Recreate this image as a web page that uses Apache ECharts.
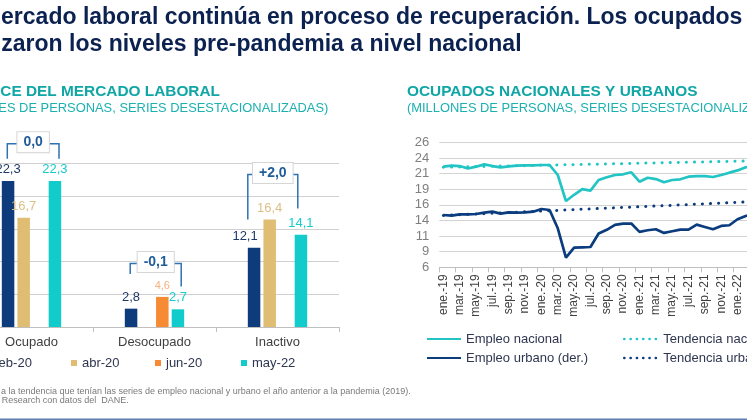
<!DOCTYPE html>
<html><head><meta charset="utf-8">
<script src="https://cdn.jsdelivr.net/npm/echarts@6/dist/echarts.min.js"></script>
<style>html,body{margin:0;padding:0;background:#ffffff}#c{width:747px;height:420px}</style>
</head><body><div id="c"></div>
<script>
// ---------- Left chart data ----------
const barCategories = ['Ocupado', 'Desocupado', 'Inactivo'];
const barNames = ['feb-20', 'abr-20', 'jun-20', 'may-22'];
const barFeb20 = [22.3, 2.8, 12.1];
const barAbr20 = [16.7, null, 16.4];
const barJun20 = [null, 4.6, null];
const barMay22 = [22.3, 2.7, 14.1];
const changeLabels = ['0,0', '-0,1', '+2,0'];
const bracketTop = [28, 9.7, 23.3];
const bracketLeftEnd = [25.7, 8.1, 16.4];
const bracketRightEnd = [25.7, 6.2, 18.1];

// ---------- Right chart data ----------
const months = ['ene.-19','feb.-19','mar.-19','abr.-19','may.-19','jun.-19','jul.-19','ago.-19','sep.-19','oct.-19','nov.-19','dic.-19',
  'ene.-20','feb.-20','mar.-20','abr.-20','may.-20','jun.-20','jul.-20','ago.-20','sep.-20','oct.-20','nov.-20','dic.-20',
  'ene.-21','feb.-21','mar.-21','abr.-21','may.-21','jun.-21','jul.-21','ago.-21','sep.-21','oct.-21','nov.-21','dic.-21',
  'ene.-22','feb.-22','mar.-22','abr.-22','may.-22'];
const empleoNacional = [22.1,22.26,22.2,21.8,22.1,22.47,22.2,22.0,22.15,22.26,22.3,22.3,
  22.37,22.37,20.77,16.6,17.6,18.5,18.26,19.97,20.4,20.77,20.88,21.2,
  19.7,20.33,20.12,19.6,19.97,20.08,20.5,20.6,20.6,20.45,20.77,21.14,
  21.5,22.0,22.1,22.2,22.3];
const tendenciaNacional = [22.00,22.03,22.05,22.08,22.11,22.14,22.16,22.19,22.22,22.24,22.27,22.30,
  22.32,22.35,22.38,22.41,22.43,22.46,22.49,22.51,22.54,22.57,22.59,22.62,
  22.65,22.68,22.70,22.73,22.76,22.78,22.81,22.84,22.86,22.89,22.92,22.95,
  22.97,23.00,23.03,23.05,23.08];
const empleoUrbano = [14.37,14.26,14.48,14.48,14.53,14.74,14.9,14.58,14.8,14.74,14.8,14.9,
  15.33,15.17,12.24,7.54,9.14,9.2,9.25,11.4,12.0,12.8,13.0,13.0,
  11.66,11.93,12.09,11.5,11.77,12.03,12.03,12.83,12.46,12.09,12.62,12.73,
  13.69,14.22,14.4,14.6,14.8];
const tendenciaUrbana = [14.30,14.36,14.42,14.47,14.53,14.59,14.65,14.71,14.76,14.82,14.88,14.94,
  15.00,15.05,15.11,15.17,15.23,15.29,15.34,15.40,15.46,15.52,15.58,15.63,
  15.69,15.75,15.81,15.87,15.92,15.98,16.04,16.10,16.16,16.21,16.27,16.33,
  16.39,16.45,16.50,16.56,16.62];
const lineNames = ['Empleo nacional', 'Tendencia nacional', 'Empleo urbano (der.)', 'Tendencia urbana'];

// ---------- Styles ----------
const FONT = '"Liberation Sans", Arial, Helvetica, sans-serif';
const NAVY = '#0d3b7c', TAN = '#dfbe74', ORANGE = '#f68b33', CYAN = '#12cccc';
const LCYAN = '#22c4c4', LNAVY = '#0b3d7e';
const TEAL = '#10a6a6';

const chart = echarts.init(document.getElementById('c'), null, {renderer: 'canvas'});

function barLabel(color, size) {
  return {show: true, position: 'top', distance: 5, color: color, fontSize: size || 13, fontFamily: FONT,
    formatter: p => (p.value == null ? '' : String(p.value).replace('.', ','))};
}
function mkBar(name, arr, color, lblColor, lblSize) {
  return {
    type: 'bar', name: name, xAxisIndex: 0, yAxisIndex: 0,
    data: arr.map((v, i) => (name === 'feb-20' && i === 2) ? {value: v, label: {offset: [-9, 0]}} : v),
    barWidth: 12.5, barGap: '25%',
    itemStyle: {color: color},
    label: barLabel(lblColor, lblSize)
  };
}
function legendItem(name, left, top, opts) {
  return Object.assign({data: [name], left: left, top: top, padding: 0, itemGap: 0,
    textStyle: {fontSize: 13, color: '#2e3650', fontFamily: FONT}}, opts);
}
const sqLegend = {icon: 'rect', itemWidth: 6, itemHeight: 6};
const lnLegend = {itemWidth: 34, itemHeight: 12, itemStyle: {opacity: 0, borderWidth: 0}};
const dotLegend = {itemWidth: 34, itemHeight: 12, itemStyle: {opacity: 0, borderWidth: 0},
  lineStyle: {type: [0.1, 6.2], cap: 'round', width: 2.6}};

const option = {
  animation: false,
  backgroundColor: '#ffffff',
  textStyle: {fontFamily: FONT},
  grid: [
    {left: -30, right: 408, top: 163.3, bottom: 93, containLabel: false, outerBoundsMode: 'none'},
    {left: 439.3, right: -27.3, top: 142.3, bottom: 152.7, containLabel: false, outerBoundsMode: 'none'}
  ],
  xAxis: [
    {type: 'category', gridIndex: 0, data: barCategories,
      axisLine: {lineStyle: {color: '#bfbfbf', width: 1}},
      axisTick: {show: true, length: 5, alignWithLabel: false, lineStyle: {color: '#bfbfbf'}},
      axisLabel: {color: '#404040', fontSize: 13, margin: 9, fontFamily: FONT}},
    {type: 'category', gridIndex: 1, data: months, boundaryGap: true,
      axisLine: {lineStyle: {color: '#bfbfbf', width: 1}},
      axisTick: {show: true, interval: 1, length: 5, lineStyle: {color: '#bfbfbf'}},
      axisLabel: {interval: 1, rotate: 90, color: '#404040', fontSize: 12, margin: 7, fontFamily: FONT}}
  ],
  yAxis: [
    {type: 'value', gridIndex: 0, min: 0, max: 25, interval: 5,
      axisLabel: {show: false}, axisLine: {show: false}, axisTick: {show: false},
      splitLine: {lineStyle: {color: '#d0d0d0', width: 1}}},
    {type: 'value', gridIndex: 1, min: 6, max: 26, interval: 2.5,
      axisLabel: {color: '#7f7f7f', fontSize: 13, margin: 10, fontFamily: FONT, formatter: v => String(Math.round(v))},
      axisLine: {show: false}, axisTick: {show: false},
      splitLine: {lineStyle: {color: '#d3d3d3', width: 1}}}
  ],
  legend: [
    legendItem('feb-20', -16, 356.5, sqLegend),
    legendItem('abr-20', 71, 356.5, sqLegend),
    legendItem('jun-20', 155, 356.5, sqLegend),
    legendItem('may-22', 241, 356.5, sqLegend),
    legendItem('Empleo nacional', 426, 332.5, lnLegend),
    legendItem('Tendencia nacional', 623, 332.5, dotLegend),
    legendItem('Empleo urbano (der.)', 426, 351.5, lnLegend),
    legendItem('Tendencia urbana', 623, 351.5, dotLegend)
  ],
  series: [
    mkBar(barNames[0], barFeb20, NAVY, '#1f3a68'),
    mkBar(barNames[1], barAbr20, TAN, '#dcbf86'),
    mkBar(barNames[2], barJun20, ORANGE, '#f5b07c', 11),
    mkBar(barNames[3], barMay22, CYAN, '#19cccc'),
    {type: 'line', name: lineNames[0], xAxisIndex: 1, yAxisIndex: 1, data: empleoNacional,
      symbol: 'none', color: LCYAN, lineStyle: {color: LCYAN, width: 2.7}, z: 3},
    {type: 'line', name: lineNames[1], xAxisIndex: 1, yAxisIndex: 1, data: tendenciaNacional,
      symbol: 'none', color: LCYAN, lineStyle: {color: LCYAN, width: 3, type: [0.1, 8], cap: 'round'}, z: 4},
    {type: 'line', name: lineNames[2], xAxisIndex: 1, yAxisIndex: 1, data: empleoUrbano,
      symbol: 'none', color: LNAVY, lineStyle: {color: LNAVY, width: 2.7}, z: 3},
    {type: 'line', name: lineNames[3], xAxisIndex: 1, yAxisIndex: 1, data: tendenciaUrbana,
      symbol: 'none', color: LNAVY, lineStyle: {color: LNAVY, width: 3, type: [0.1, 8], cap: 'round'}, z: 4}
  ]
};
chart.setOption(option);

// ---------- Annotations (anchored to the bar chart scale) ----------
const bracketDx = [[-24.2, 27.5], [-24.3, 26.7], [-29.7, 20.3]];
const graphics = [];
function txt(text, x, y, size, weight, color, align) {
  return {type: 'text', silent: true, x: x, y: y, z: 100,
    style: {text: text, fontSize: size, fontWeight: weight, fontFamily: FONT, fill: color,
      align: align || 'left', verticalAlign: 'middle'}};
}
graphics.push(txt('El mercado laboral continúa en proceso de recuperación. Los ocupados', -47.5, 17.5, 23, 'bold', '#0b2150'));
graphics.push(txt('alcanzaron los niveles pre-pandemia a nivel nacional', -57.5, 44.5, 23, 'bold', '#0b2150'));
graphics.push(txt('BALANCE DEL MERCADO LABORAL', 220, 91.7, 15.4, 'bold', TEAL, 'right'));
graphics.push(txt('(MILLONES DE PERSONAS, SERIES DESESTACIONALIZADAS)', 328.3, 108.3, 12.9, 'normal', '#1cb0b0', 'right'));
graphics.push(txt('OCUPADOS NACIONALES Y URBANOS', 407, 91.7, 15.4, 'bold', TEAL));
graphics.push(txt('(MILLONES DE PERSONAS, SERIES DESESTACIONALIZADAS)', 407, 108.3, 12.9, 'normal', '#1cb0b0'));
graphics.push(txt('a la tendencia que tenían las series de empleo nacional y urbano el año anterior a la pandemia (2019).', 1, 391.7, 9, 'normal', '#7a7a7a'));
graphics.push(txt('Research con datos del  DANE.', 1.7, 401, 9, 'normal', '#7a7a7a'));
graphics.push({type: 'rect', silent: true, shape: {x: 0, y: 418.5, width: 747, height: 1.5}, style: {fill: '#5d7fb5'}, z: 100});

for (let k = 0; k < barCategories.length; k++) {
  const top = chart.convertToPixel({gridIndex: 0}, [k, bracketTop[k]]);
  const yl = chart.convertToPixel({gridIndex: 0}, [k, bracketLeftEnd[k]])[1];
  const yr = chart.convertToPixel({gridIndex: 0}, [k, bracketRightEnd[k]])[1];
  const xl = top[0] + bracketDx[k][0], xr = top[0] + bracketDx[k][1];
  graphics.push({type: 'polyline', silent: true, z: 90,
    shape: {points: [[xl, yl], [xl, top[1]], [xr, top[1]], [xr, yr]]},
    style: {stroke: '#2f72b4', lineWidth: 1.5, fill: null}});
  graphics.push({type: 'text', silent: true, z: 95, x: (xl + xr) / 2, y: top[1] - 1.5,
    style: {text: changeLabels[k], fontSize: 14, fontWeight: 'bold', fontFamily: FONT, fill: '#1f5c99',
      align: 'center', verticalAlign: 'middle', backgroundColor: '#ffffff',
      borderColor: '#d6d6d6', borderWidth: 1, padding: [3, 6]}});
}
chart.setOption({graphic: graphics});
</script>
</body></html>
